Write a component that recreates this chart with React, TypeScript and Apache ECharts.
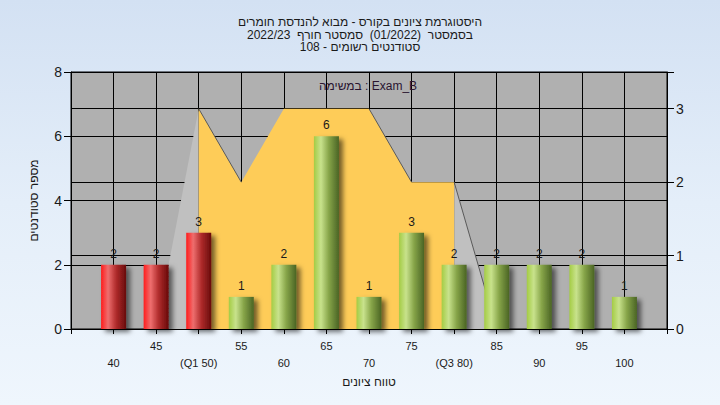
import React, { useEffect, useRef } from "react";
import * as echarts from "echarts";

const titleLines = [
  "היסטוגרמת ציונים בקורס - מבוא להנדסת חומרים",
  "בסמסטר  (01/2022)  סמסטר חורף  2022/23",
  "סטודנטים רשומים - 108",
];
const examLabel = "במשימה : Exam_B";
const xName = "טווח ציונים";
const yName = "מספר סטודנטים";

const grades = [40, 45, 50, 55, 60, 65, 70, 75, 80, 85, 90, 95, 100];
const counts = [2, 2, 3, 1, 2, 6, 1, 3, 2, 2, 2, 2, 1];
const tickLabels = ["40", "45", "(Q1 50)", "55", "60", "65", "70", "75", "(Q3 80)", "85", "90", "95", "100"];
const passGrade = 55;

const curveX = [45, 50, 55, 60, 65, 70, 75, 80, 85];
const curveY = [0, 3, 2, 3, 3, 3, 2, 2, 0];
const q1 = 50;
const q3 = 80;

const FONT = "'Liberation Sans', 'DejaVu Sans', sans-serif";

const redGrad = () =>
  new echarts.graphic.LinearGradient(0, 0, 1, 0, [
    { offset: 0, color: "#ff1c1c" },
    { offset: 0.28, color: "#ee6e6e" },
    { offset: 0.6, color: "#b02c2c" },
    { offset: 1, color: "#680a0a" },
  ]);
const greenGrad = () =>
  new echarts.graphic.LinearGradient(0, 0, 1, 0, [
    { offset: 0, color: "#a4cc44" },
    { offset: 0.28, color: "#c8e28c" },
    { offset: 0.6, color: "#86a448" },
    { offset: 1, color: "#4a6424" },
  ]);

export default function App() {
  const ref = useRef<HTMLDivElement>(null);
  useEffect(() => {
    if (!ref.current) return;
    const chart = echarts.init(ref.current, undefined, { renderer: "svg" });

    const pts = curveX.map((x, i) => [x, curveY[i]]);
    const leftPart = pts.filter((p) => p[0] <= q1);
    const midPart = pts.filter((p) => p[0] >= q1 && p[0] <= q3);
    const rightPart = pts.filter((p) => p[0] >= q3);

    const edgeSeries: any[] = [];
    for (let i = 0; i < pts.length - 1; i++) {
      if (pts[i + 1][1] < pts[i][1]) {
        edgeSeries.push({
          type: "line",
          yAxisIndex: 1,
          data: [pts[i], pts[i + 1]],
          symbol: "none",
          lineStyle: { color: "#5a5a5a", width: 1 },
          z: 3,
          silent: true,
        });
      }
    }

    const areaSeries = (data: number[][], color: string) => ({
      type: "line",
      yAxisIndex: 1,
      data,
      symbol: "none",
      lineStyle: { width: 0 },
      areaStyle: { color, opacity: 1 },
      z: 2,
      silent: true,
    });

    chart.setOption({
      animation: false,
      textStyle: { fontFamily: FONT },
      title: {
        text: titleLines.join("\n"),
        left: "center",
        top: 11,
        textStyle: { fontSize: 12, fontWeight: "normal", color: "#1a1a1a", lineHeight: 12.5, fontFamily: FONT },
      },
      grid: {
        left: 71,
        right: 53,
        top: 72,
        bottom: 76,
        show: true,
        backgroundColor: "#b0b0b0",
        borderColor: "#000",
        borderWidth: 1,
      },
      xAxis: {
        type: "value",
        min: 35,
        max: 105,
        interval: 5,
        name: xName,
        nameLocation: "middle",
        nameGap: 43,
        nameTextStyle: { fontSize: 12, color: "#1a1a1a", fontFamily: FONT },
        axisLine: { show: true, lineStyle: { color: "#000", width: 1 } },
        axisTick: { show: true, length: 5, lineStyle: { color: "#000" } },
        splitLine: { show: true, lineStyle: { color: "#000", width: 1 } },
        axisLabel: {
          fontSize: 11,
          color: "#1a1a1a",
          margin: 8,
          lineHeight: 17,
          fontFamily: FONT,
          formatter: (v: number) => {
            const idx = grades.indexOf(v);
            if (idx < 0) return "";
            return idx % 2 === 0 ? "\n" + tickLabels[idx] : tickLabels[idx];
          },
        },
      },
      yAxis: [
        {
          type: "value",
          min: 0,
          max: 8,
          interval: 2,
          position: "left",
          name: yName,
          nameLocation: "middle",
          nameRotate: 90,
          nameGap: 31,
          nameTextStyle: { fontSize: 12, color: "#1a1a1a", fontFamily: FONT },
          axisLine: { show: true, lineStyle: { color: "#000", width: 1 } },
          axisTick: { show: true, length: 7, lineStyle: { color: "#000" } },
          splitLine: { show: true, lineStyle: { color: "#000", width: 1 } },
          axisLabel: { fontSize: 14, color: "#1a1a1a", margin: 9, fontFamily: FONT },
        },
        {
          type: "value",
          min: 0,
          max: 3.5,
          interval: 1,
          position: "right",
          axisLine: { show: true, lineStyle: { color: "#000", width: 1 } },
          axisTick: { show: true, length: 7, lineStyle: { color: "#000" } },
          splitLine: { show: true, lineStyle: { color: "#000", width: 1 } },
          axisLabel: {
            fontSize: 14,
            color: "#1a1a1a",
            margin: 9,
            fontFamily: FONT,
            formatter: (v: number) => (Number.isInteger(v) ? String(v) : ""),
          },
        },
      ],
      graphic: [
        {
          type: "text",
          x: 368,
          y: 86,
          z: 10,
          style: {
            text: examLabel,
            textAlign: "center",
            textVerticalAlign: "middle",
            fontSize: 12,
            fill: "#2a1430",
            fontFamily: FONT,
          },
        },
      ],
      series: [
        areaSeries(leftPart, "#c0c0c0"),
        areaSeries(rightPart, "#c0c0c0"),
        areaSeries(midPart, "#fecc58"),
        ...edgeSeries,
        {
          type: "bar",
          yAxisIndex: 0,
          barWidth: 25,
          z: 5,
          data: grades.map((g, i) => ({
            value: [g, counts[i]],
            itemStyle: {
              color: g < passGrade ? redGrad() : greenGrad(),
              shadowBlur: 5,
              shadowColor: "rgba(0,0,0,0.55)",
              shadowOffsetX: 4,
              shadowOffsetY: 3,
            },
          })),
          label: {
            show: true,
            position: "top",
            distance: 5,
            fontSize: 12,
            color: "#1a1a1a",
            fontFamily: FONT,
            formatter: (p: any) => String(p.value[1]),
          },
        },
      ],
    });
    return () => chart.dispose();
  }, []);

  return (
    <div
      style={{
        position: "fixed",
        left: 0,
        top: 0,
        width: 720,
        height: 405,
        background: "linear-gradient(180deg, #d3e1f3 0%, #e4eef9 50%, #eff6fd 100%)",
      }}
    >
      <div ref={ref} style={{ width: 720, height: 405 }} />
    </div>
  );
}
